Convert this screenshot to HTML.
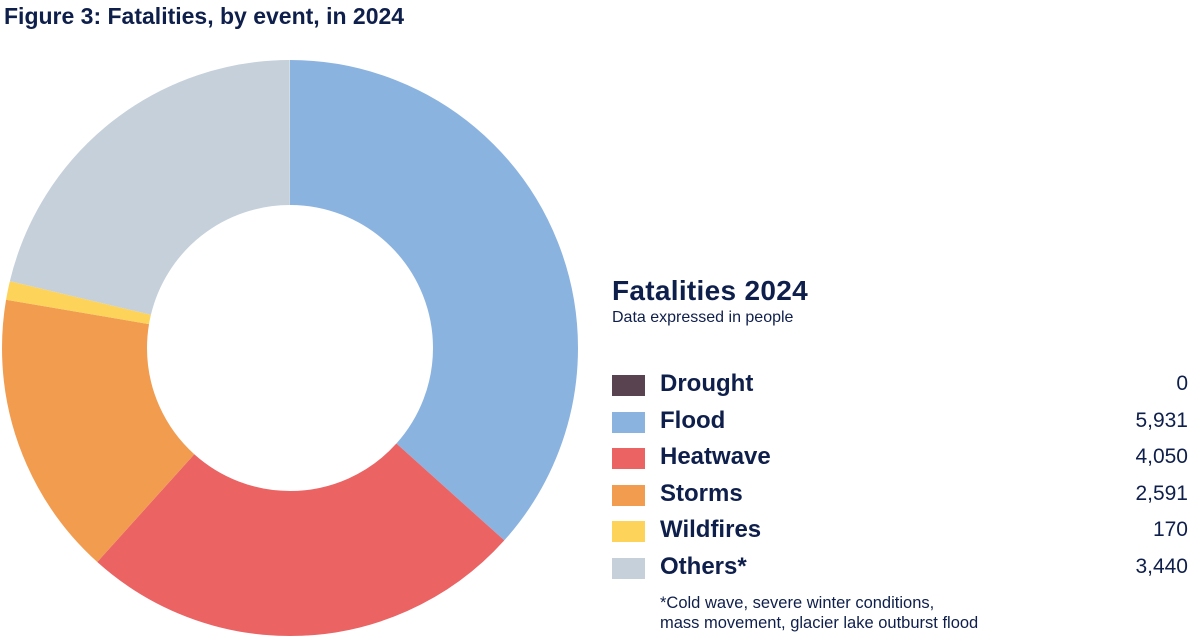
<!DOCTYPE html>
<html><head><meta charset="utf-8"><style>
body{margin:0;width:1200px;height:643px;background:#fff;font-family:"Liberation Sans",sans-serif;color:#0f1f4b;position:relative;overflow:hidden}
.t{position:absolute;left:4px;top:3px;font-size:23px;font-weight:bold}
.h{position:absolute;left:612px;top:275px;font-size:28px;font-weight:bold;letter-spacing:0.3px}
.s{position:absolute;left:612px;top:309px;font-size:16px}
.r{position:absolute;left:612px;width:576px;height:30px}
.r i{position:absolute;left:0;top:5px;width:33px;height:21px}
.r b{position:absolute;left:48px;top:0;font-size:24px}
.r span{position:absolute;right:0;top:2px;font-size:21px}
.f{position:absolute;left:660px;top:593px;font-size:16.5px;line-height:20px}
</style></head><body>
<div class="t">Figure 3: Fatalities, by event, in 2024</div>
<svg width="1200" height="643" style="position:absolute;left:0;top:0">
<g transform="rotate(-90 290 348)" fill="none" stroke-width="145">
<circle cx="290" cy="348" r="215.5" pathLength="16182" stroke="#8bb3e0" stroke-dasharray="5931 20000" stroke-dashoffset="0"/>
<circle cx="290" cy="348" r="215.5" pathLength="16182" stroke="#eb6363" stroke-dasharray="4050 20000" stroke-dashoffset="-5931"/>
<circle cx="290" cy="348" r="215.5" pathLength="16182" stroke="#f29c50" stroke-dasharray="2591 20000" stroke-dashoffset="-9981"/>
<circle cx="290" cy="348" r="215.5" pathLength="16182" stroke="#fdd35a" stroke-dasharray="170 20000" stroke-dashoffset="-12572"/>
<circle cx="290" cy="348" r="215.5" pathLength="16182" stroke="#c5d0db" stroke-dasharray="3440 20000" stroke-dashoffset="-12742"/>
</g></svg>
<div class="h">Fatalities 2024</div>
<div class="s">Data expressed in people</div>
<div class="r" style="top:370px"><i style="background:#5a4350"></i><b>Drought</b><span>0</span></div>
<div class="r" style="top:407px"><i style="background:#8bb3e0"></i><b>Flood</b><span>5,931</span></div>
<div class="r" style="top:443px"><i style="background:#eb6363"></i><b>Heatwave</b><span>4,050</span></div>
<div class="r" style="top:480px"><i style="background:#f29c50"></i><b>Storms</b><span>2,591</span></div>
<div class="r" style="top:516px"><i style="background:#fdd35a"></i><b>Wildfires</b><span>170</span></div>
<div class="r" style="top:553px"><i style="background:#c5d0db"></i><b>Others*</b><span>3,440</span></div>
<div class="f">*Cold wave, severe winter conditions,<br>mass movement, glacier lake outburst flood</div>
</body></html>
